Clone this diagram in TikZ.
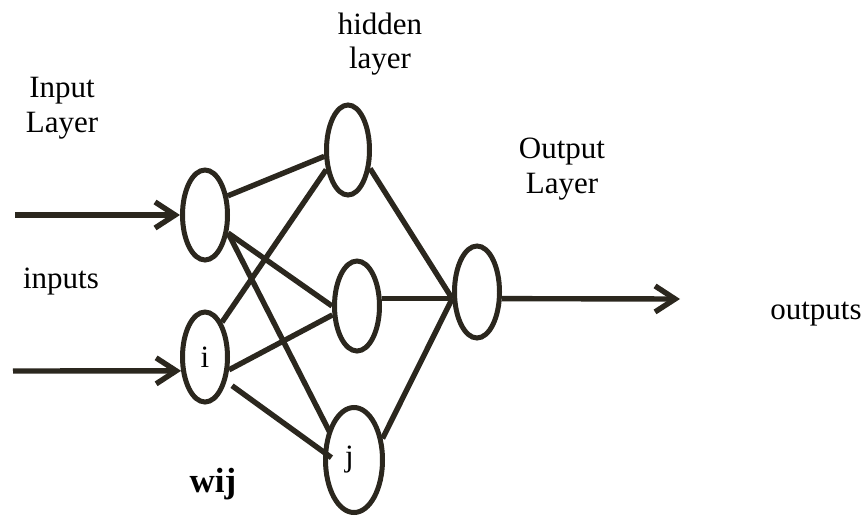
\documentclass[tikz,border=0pt]{standalone}
\usepackage{fontspec}
\setmainfont{Liberation Serif}
\usetikzlibrary{shapes.geometric,arrows.meta}

\definecolor{netline}{HTML}{2B271E}

\begin{document}
\begin{tikzpicture}[
  x=1pt,
  y=-1pt,
  neuron/.style={draw=netline,ellipse,line width=5pt,inner sep=0pt,
    minimum width=45pt,minimum height=90pt,font=\fontsize{31}{35}\selectfont},
  wire/.style={draw=netline,line width=5.4pt},
  feed/.style={wire,-{Straight Barb[length=20pt,width=26pt]}},
  caption/.style={font=\fontsize{31}{35}\selectfont,align=center,anchor=base,inner sep=0pt}
]
  \useasboundingbox (0,0) rectangle (867,519);

  % Neurons, one column per layer.
  \node[neuron] (in1) at (205,215) {};
  \node[neuron] (in2) at (205,357) {i};
  \node[neuron,minimum width=43pt] (h1) at (348,150) {};
  \node[neuron] (h2) at (357,306) {};
  \node[neuron,minimum width=57pt,minimum height=105pt] (h3) at (354,460) {j\hspace*{9pt}};
  \node[neuron,minimum height=92pt] (out) at (477,292) {};

  % Input to hidden weights.
  \draw[wire] (in1.40) -- (h1.195);
  \draw[wire] (in1.-38) -- (h2.west);
  \draw[wire,shorten >=-3pt] (in1.-38) -- (h3.130);
  \draw[wire] (in2.64) -- (h1.222);
  \draw[wire] (in2.-28) -- (h2.200);
  \draw[wire,shorten <=7pt,shorten >=-10pt] (in2.-49) -- (h3.165);

  % Hidden to output.
  \draw[wire] (h1.-40) -- (out.195);
  \draw[wire] (h2.east |- out.195) -- (out.195);
  \draw[wire] (h3.37) -- (out.195);

  % Signals in and out.
  \coordinate (src1) at (15,215);
  \coordinate (src2) at (13,371);
  \coordinate (sink) at (680,299);
  \draw[feed] (src1) -- (in1.west);
  \draw[feed] (src2) -- (in2.210);
  \draw[feed] (out.-15) -- (sink);

  % Labels (base is the last line).
  \node[caption] (inlayer) at (62,132) {Input\\Layer};
  \node[caption] (hidlayer) at (380,69) {hidden\\layer};
  \node[caption] (outlayer) at (562,193) {Output\\Layer};
  \node[caption] (inputs) at (61,288) {inputs};
  \node[caption] (outputs) at (816,319) {outputs};
  \node[caption,font=\fontsize{35}{40}\selectfont\bfseries] (weight) at (213,492) {wij};
\end{tikzpicture}
\end{document}
